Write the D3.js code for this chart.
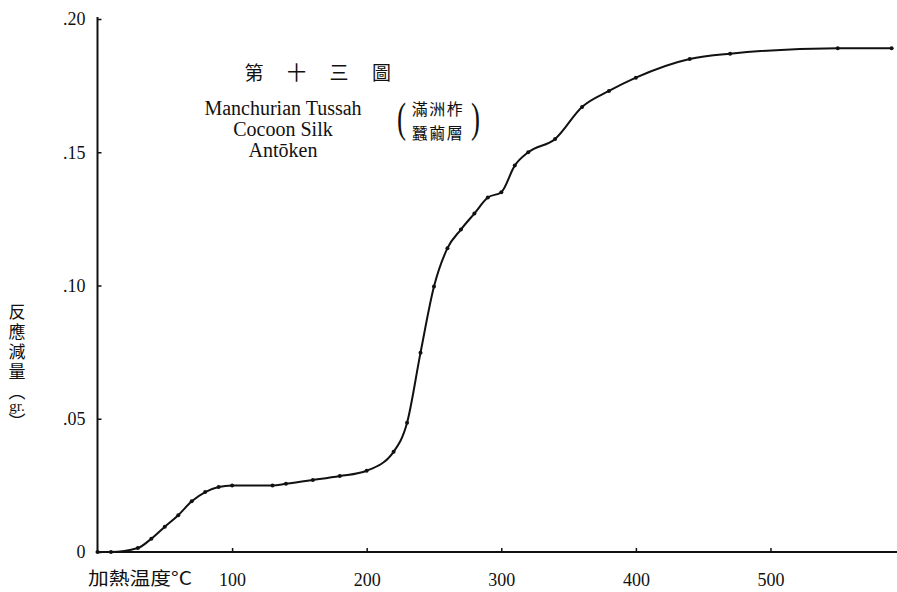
<!DOCTYPE html>
<html>
<head>
<meta charset="utf-8">
<script src="https://cdn.jsdelivr.net/npm/d3@7"></script>
<style>
  html, body { margin: 0; padding: 0; background: #fff; }
  svg { display: block; }
  .lat { font-family: "Liberation Serif", "DejaVu Serif", serif; fill: #111; }
  .cjk { font-family: "Noto Sans CJK TC", "Noto Sans CJK JP", sans-serif; fill: #111; }
  .vert { writing-mode: vertical-rl; }
</style>
</head>
<body>
<svg id="chart" width="897" height="592"></svg>
<script>
// Heating temperature (°C) and reaction weight loss (gr.)
const temps = [0, 10, 30, 40, 50, 60, 70, 80, 90, 100, 130, 140, 160, 180, 200,
               220, 230, 240, 250, 260, 270, 280, 290, 300, 310, 320, 340, 360,
               380, 400, 440, 470, 550, 590];
const loss  = [0, 0, 0.0015, 0.005, 0.0095, 0.0138, 0.019, 0.0225, 0.0244, 0.025,
               0.025, 0.0256, 0.027, 0.0285, 0.0305, 0.0376, 0.0485, 0.0748, 0.0996,
               0.114, 0.121, 0.127, 0.133, 0.135, 0.145, 0.150, 0.155, 0.167,
               0.173, 0.178, 0.185, 0.187, 0.189, 0.189];

const xTickValues = [100, 200, 300, 400, 500];
const yTickValues = [0, 0.05, 0.10, 0.15, 0.20];
const yTickLabels = ["0", ".05", ".10", ".15", ".20"];

const titleChars = ["第", "十", "三", "圖"];
const subtitleLines = ["Manchurian Tussah", "Cocoon Silk", "Antōken"];
const jpLines = ["滿洲柞", "蠶繭層"];
const yLabel = "反應減量";
const yUnit = "gr.";
const xLabel = "加熱温度°C";

const svg = d3.select("#chart");
const ink = "#111";

const x = d3.scaleLinear().domain([0, 594]).range([97.5, 897]);
const y = d3.scaleLinear().domain([0, 0.2]).range([552, 19]);

// Axes
const xAxis = d3.axisBottom(x).tickValues(xTickValues).tickSize(-4)
  .tickSizeOuter(0).tickPadding(21).tickFormat(d3.format("d"));
const gx = svg.append("g").attr("transform", `translate(0,${y(0)})`).call(xAxis);
gx.select(".domain").remove();
gx.selectAll(".tick line").attr("stroke", ink).attr("stroke-width", 1.5);
gx.selectAll(".tick text").attr("class", "lat").attr("font-size", 18).attr("fill", ink);
gx.append("line").attr("x1", x(0) - 1).attr("x2", 897)
  .attr("stroke", ink).attr("stroke-width", 2);

const yAxis = d3.axisLeft(y).tickValues(yTickValues).tickSize(-4)
  .tickSizeOuter(0).tickPadding(12)
  .tickFormat((d, i) => yTickLabels[i]);
const gy = svg.append("g").attr("transform", `translate(${x(0)},0)`).call(yAxis);
gy.select(".domain").remove();
gy.selectAll(".tick line").attr("stroke", ink).attr("stroke-width", 1.5);
gy.selectAll(".tick text").attr("class", "lat").attr("font-size", 18).attr("fill", ink);
gy.append("line").attr("y1", y(0) + 1).attr("y2", y(0.2) - 2)
  .attr("stroke", ink).attr("stroke-width", 2);

// Curve
const line = d3.line()
  .x((d, i) => x(temps[i]))
  .y(d => y(d))
  .curve(d3.curveMonotoneX);
svg.append("path").datum(loss)
  .attr("d", line)
  .attr("fill", "none")
  .attr("stroke", ink)
  .attr("stroke-width", 2)
  .attr("stroke-linejoin", "round");

svg.append("g").selectAll("circle").data(loss).join("circle")
  .attr("cx", (d, i) => x(temps[i]))
  .attr("cy", d => y(d))
  .attr("r", 2)
  .attr("fill", ink);

// Title block
svg.append("g").selectAll("text").data(titleChars).join("text")
  .attr("class", "cjk")
  .attr("x", (d, i) => 254 + i * 42.5)
  .attr("y", 80)
  .attr("text-anchor", "middle")
  .attr("font-size", 19)
  .text(d => d);

svg.append("g").selectAll("text").data(subtitleLines).join("text")
  .attr("class", "lat")
  .attr("x", 283)
  .attr("y", (d, i) => 115 + i * 21)
  .attr("text-anchor", "middle")
  .attr("font-size", 20)
  .text(d => d);

// Tall thin parentheses around the two-line Japanese caption
[["(", 397], [")", 471]].forEach(([ch, px]) => {
  svg.append("text").attr("class", "lat")
    .attr("transform", `translate(${px},132) scale(1,1.6)`)
    .attr("font-size", 27)
    .text(ch);
});
const jp = svg.append("text").attr("class", "cjk")
  .attr("text-anchor", "middle")
  .attr("font-size", 16)
  .attr("letter-spacing", 1.5);
jp.selectAll("tspan").data(jpLines).join("tspan")
  .attr("x", 438)
  .attr("y", (d, i) => 115 + i * 23.5)
  .text(d => d);

// Y-axis label in vertical setting; the unit sits upright between vertical brackets
const yl = svg.append("g");
yl.append("text").attr("class", "cjk vert")
  .attr("x", 17).attr("y", 303)
  .attr("font-size", 17)
  .attr("letter-spacing", 3)
  .text(yLabel);
yl.append("text").attr("class", "cjk vert")
  .attr("x", 17).attr("y", 383)
  .attr("font-size", 17)
  .text("（");
yl.append("text").attr("class", "lat")
  .attr("x", 17).attr("y", 411)
  .attr("text-anchor", "middle").attr("font-size", 15)
  .text(yUnit);
yl.append("text").attr("class", "cjk vert")
  .attr("x", 17).attr("y", 413)
  .attr("font-size", 17)
  .text("）");

// X-axis label
svg.append("text").attr("class", "cjk")
  .attr("x", 88).attr("y", 585)
  .attr("font-size", 18)
  .attr("textLength", 104).attr("lengthAdjust", "spacingAndGlyphs")
  .text(xLabel);
</script>
</body>
</html>
